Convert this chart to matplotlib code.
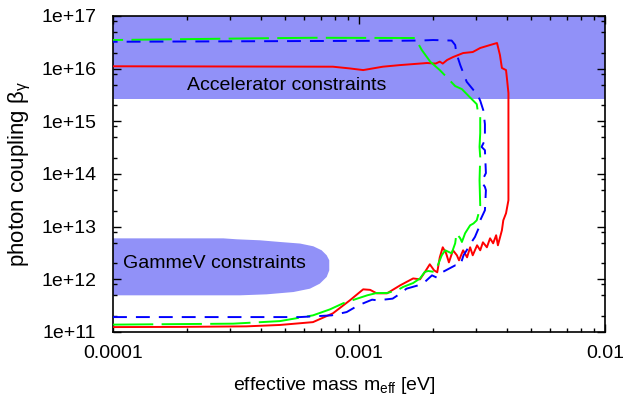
"""
Exclusion plot: photon coupling vs effective mass
"""

import numpy as np
import matplotlib
matplotlib.use("Agg")
import matplotlib.pyplot as plt
from matplotlib.ticker import FixedLocator, FixedFormatter, LogLocator, NullFormatter

# Fonts
plt.rcParams["font.family"] = ["Liberation Sans", "DejaVu Sans"]
plt.rcParams["mathtext.fontset"] = "custom"
plt.rcParams["mathtext.rm"] = "Liberation Sans"
plt.rcParams["mathtext.it"] = "Liberation Sans"
plt.rcParams["mathtext.default"] = "regular"
plt.rcParams["lines.scale_dashes"] = False

# Axis ticks
x_ticks = [1e-4, 1e-3, 1e-2]
x_tick_labels = ["0.0001", "0.001", "0.01"]
y_ticks = [1e11, 1e12, 1e13, 1e14, 1e15, 1e16, 1e17]
y_tick_labels = ["1e+11", "1e+12", "1e+13", "1e+14", "1e+15", "1e+16", "1e+17"]

# Excluded regions
accel_beta = [2.6e15, 1.0e17]
gammev_m = [1.00e-4, 2.81e-4, 3.18e-4, 3.96e-4, 4.77e-4, 5.76e-4, 6.52e-4, 7.05e-4, 7.39e-4,
            7.57e-4, 7.57e-4, 7.39e-4, 6.93e-4, 6.32e-4, 5.41e-4, 4.21e-4, 3.28e-4, 1.00e-4]
gammev_beta = [6.0e12, 6.0e12, 5.76e12, 5.51e12, 5.12e12, 4.78e12, 4.24e12, 3.56e12, 2.86e12,
               2.30e12, 1.48e12, 1.11e12, 8.28e11, 6.65e11, 5.74e11, 5.19e11, 4.97e11, 4.97e11]

# Sensitivity contours
red_m = [1.00e-4, 1.87e-4, 3.48e-4, 4.77e-4, 6.50e-4, 7.83e-4, 9.18e-4, 1.04e-3, 1.11e-3,
         1.18e-3, 1.30e-3, 1.47e-3, 1.66e-3, 1.77e-3, 1.85e-3, 1.94e-3, 2.02e-3, 2.08e-3,
         2.13e-3, 2.19e-3, 2.26e-3, 2.32e-3, 2.41e-3, 2.50e-3, 2.55e-3, 2.65e-3, 2.75e-3,
         2.83e-3, 2.90e-3, 3.02e-3, 3.11e-3, 3.19e-3, 3.31e-3, 3.41e-3, 3.51e-3, 3.61e-3,
         3.67e-3, 3.81e-3, 3.86e-3, 3.96e-3, 4.05e-3, 4.05e-3, 4.00e-3, 3.96e-3, 3.81e-3,
         3.74e-3, 3.64e-3, 3.41e-3, 3.11e-3, 2.90e-3, 2.65e-3, 2.41e-3, 2.28e-3, 2.19e-3,
         2.13e-3, 2.05e-3, 1.89e-3, 1.47e-3, 1.25e-3, 1.04e-3, 9.18e-4, 7.83e-4, 1.00e-4]
red_beta = [1.24e11, 1.25e11, 1.28e11, 1.36e11, 1.54e11, 2.26e11, 3.99e11, 6.46e11, 6.31e11,
            5.42e11, 5.42e11, 7.69e11, 1.04e12, 1.00e12, 1.36e12, 1.93e12, 1.48e12, 1.36e12,
            2.62e12, 4.06e12, 3.12e12, 2.10e12, 3.56e12, 2.86e12, 2.30e12, 3.56e12, 2.62e12,
            4.06e12, 2.86e12, 4.43e12, 3.56e12, 5.05e12, 4.06e12, 6.01e12, 4.83e12, 6.87e12,
            4.43e12, 8.55e12, 1.32e13, 1.80e13, 3.18e13, 3.44e15, 6.07e15, 9.40e15, 1.03e16,
            1.82e16, 3.07e16, 2.81e16, 2.47e16, 2.07e16, 1.98e16, 1.66e16, 1.46e16, 1.25e16,
            1.36e16, 1.25e16, 1.28e16, 1.17e16, 1.09e16, 9.40e15, 1.01e16, 1.09e16, 1.11e16]

green_m = [1.00e-4, 3.08e-4, 4.77e-4, 6.50e-4, 7.62e-4, 8.61e-4, 9.18e-4, 1.08e-3, 1.18e-3,
           1.30e-3, 1.43e-3, 1.51e-3, 1.66e-3, 1.77e-3, 1.85e-3, 1.91e-3, 2.04e-3, 2.09e-3,
           2.17e-3, 2.24e-3, 2.38e-3, 2.46e-3, 2.49e-3, 2.58e-3, 2.62e-3, 2.70e-3, 2.83e-3,
           2.92e-3, 3.01e-3, 3.05e-3, 3.11e-3, 3.09e-3, 3.11e-3, 3.09e-3, 3.11e-3, 3.11e-3,
           3.05e-3, 3.01e-3, 2.83e-3, 2.62e-3, 2.46e-3, 2.28e-3, 2.13e-3, 1.95e-3, 1.80e-3,
           1.69e-3, 6.50e-4, 3.81e-4, 1.00e-4]
green_beta = [1.38e11, 1.44e11, 1.61e11, 2.07e11, 2.69e11, 3.50e11, 3.87e11, 4.97e11, 5.50e11,
              5.50e11, 6.18e11, 7.15e11, 8.51e11, 1.04e12, 1.38e12, 1.44e12, 1.38e12, 1.84e12,
              2.86e12, 3.56e12, 3.12e12, 4.83e12, 7.50e12, 6.01e12, 5.12e12, 7.50e12, 1.06e13,
              1.15e13, 1.32e13, 1.65e13, 2.55e13, 7.62e13, 2.08e14, 3.27e14, 5.97e14, 1.20e15,
              1.41e15, 2.12e15, 2.83e15, 4.09e15, 4.67e15, 6.78e15, 9.40e15, 1.35e16, 2.26e16,
              3.82e16, 3.86e16, 3.77e16, 3.50e16]

blue_m = [1.00e-4, 5.75e-4, 7.74e-4, 8.91e-4, 9.94e-4, 1.13e-3, 1.19e-3, 1.37e-3, 1.47e-3,
          1.56e-3, 1.74e-3, 1.82e-3, 1.98e-3, 2.07e-3, 2.19e-3, 2.46e-3, 2.58e-3, 2.66e-3,
          2.74e-3, 2.87e-3, 2.96e-3, 3.06e-3, 3.11e-3, 3.25e-3, 3.28e-3, 3.25e-3, 3.15e-3,
          3.28e-3, 3.25e-3, 3.15e-3, 3.25e-3, 3.25e-3, 3.20e-3, 3.11e-3, 3.01e-3, 2.92e-3,
          2.74e-3, 2.58e-3, 2.49e-3, 2.46e-3, 2.38e-3, 2.00e-3, 1.77e-3, 1.47e-3, 6.50e-4,
          1.00e-4]
blue_beta = [1.92e11, 1.92e11, 2.07e11, 2.39e11, 3.21e11, 4.11e11, 3.99e11, 4.30e11, 5.35e11,
             6.65e11, 7.69e11, 8.28e11, 1.19e12, 1.08e12, 1.38e12, 1.84e12, 1.84e12, 2.86e12,
             3.56e12, 5.12e12, 6.37e12, 9.20e12, 1.32e13, 2.05e13, 4.92e13, 5.69e13, 7.08e13,
             1.04e14, 2.83e14, 3.27e14, 4.40e14, 8.85e14, 1.63e15, 2.47e15, 3.44e15, 3.92e15,
             5.64e15, 1.17e16, 1.95e16, 2.81e16, 3.42e16, 3.50e16, 3.42e16, 3.39e16, 3.35e16,
             3.24e16]

shade = "#9191f8"

fig = plt.figure(figsize=(6.26, 4.0), dpi=100)
ax = fig.add_axes([113 / 626, 1 - 332 / 400, 492 / 626, 316 / 400])
ax.set_xscale("log")
ax.set_yscale("log")
ax.set_xlim(x_ticks[0], x_ticks[-1])
ax.set_ylim(y_ticks[0], y_ticks[-1])

# Shaded constraint regions
ax.fill_between([x_ticks[0], x_ticks[-1]], accel_beta[0], accel_beta[1],
                color=shade, lw=0, zorder=1)
ax.fill(gammev_m, gammev_beta, color=shade, lw=0, zorder=1)
ax.text(2.0e-4, 4.7e15, "Accelerator constraints", fontsize=14,
        va="center", ha="left", zorder=2)
ax.text(1.1e-4, 2.0e12, "GammeV constraints", fontsize=14,
        va="center", ha="left", zorder=2)

# Contours
ax.plot(red_m, red_beta, color="#ff0000", lw=1.4, zorder=3)
ax.plot(green_m, green_beta, color="#00ff00", lw=1.4, dashes=(29, 6), zorder=3)
ax.plot(blue_m, blue_beta, color="#0000ff", lw=1.4, dashes=(10, 6.5), zorder=3)

# Ticks
ax.xaxis.set_major_locator(FixedLocator(x_ticks))
ax.xaxis.set_major_formatter(FixedFormatter(x_tick_labels))
ax.xaxis.set_minor_locator(LogLocator(base=10, subs=np.arange(2, 10), numticks=20))
ax.xaxis.set_minor_formatter(NullFormatter())
ax.yaxis.set_major_locator(FixedLocator(y_ticks))
ax.yaxis.set_major_formatter(FixedFormatter(y_tick_labels))
ax.yaxis.set_minor_locator(LogLocator(base=10, subs=[2, 5, 8], numticks=20))
ax.yaxis.set_minor_formatter(NullFormatter())
ax.tick_params(which="both", direction="in", top=True, right=True, width=1.0, labelsize=14)
ax.tick_params(which="major", length=6)
ax.tick_params(which="minor", length=3)
ax.tick_params(axis="y", which="major", pad=12)
ax.tick_params(axis="x", which="major", pad=9)
for s in ax.spines.values():
    s.set_linewidth(1.2)

ax.set_xlabel("effective mass m$_{eff}$ [eV]", fontsize=14)
ax.xaxis.set_label_coords(0.45, -0.135)
ax.set_ylabel(r"photon coupling $\beta_\gamma$", fontsize=16)
ax.yaxis.set_label_coords(-0.162, 0.5)

fig.savefig("out.png", dpi=100)
